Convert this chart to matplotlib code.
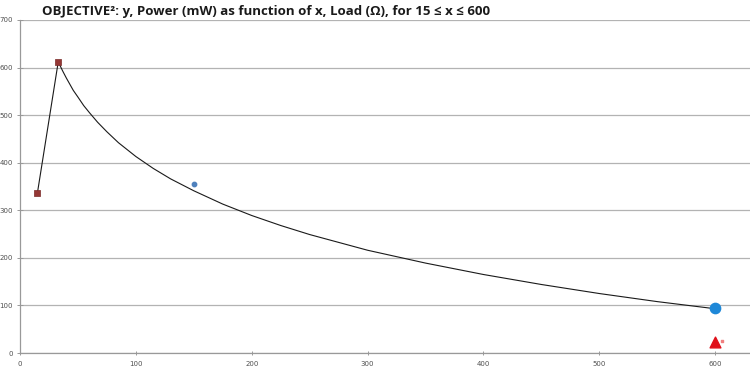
import matplotlib.pyplot as plt

# data
square_x = [15, 33]
square_y = [336, 612]

curve_x = [33, 35, 37, 40, 43, 46, 50, 55, 60, 67, 75, 85, 100, 115, 130, 150, 175, 200, 225, 250,
           300, 350, 400, 450, 500, 550, 600]
curve_y = [612, 602, 592, 578, 565, 552, 538, 520, 505, 485, 465, 442, 413, 388, 366, 341, 313, 289, 268, 249,
           216, 189, 165, 144, 125, 108, 93]

star_x, star_y = [150], [355]
circle_x, circle_y = [600], [94]
triangle_x, triangle_y = [600], [23]
tiny_x, tiny_y = [606], [26]

x_ticks = [0, 100, 200, 300, 400, 500, 600]
y_ticks = [0, 100, 200, 300, 400, 500, 600, 700]

fig = plt.figure(figsize=(7.5, 3.71), dpi=100)
ax = fig.add_axes([20 / 750, 18 / 371, 730 / 750, 333 / 371])

ax.plot(square_x, square_y, color="#1a1a1a", lw=0.8, zorder=3)
ax.plot(curve_x, curve_y, color="#1a1a1a", lw=0.8, zorder=3)
ax.scatter(square_x, square_y, marker="s", s=22, color="#953735", edgecolor="#7a2a28", lw=0.5, zorder=4)
ax.scatter(star_x, star_y, marker="o", s=10, color="#4f81bd", zorder=4)
ax.scatter(circle_x, circle_y, marker="o", s=55, color="#1e88d8", zorder=4)
ax.scatter(triangle_x, triangle_y, marker="^", s=60, color="#e0101a", zorder=4)
ax.scatter(tiny_x, tiny_y, marker="s", s=3, color="#f08080", zorder=4)

ax.set_xlim(0, 630)
ax.set_ylim(0, 700)
ax.set_xticks(x_ticks)
ax.set_yticks(y_ticks)
ax.grid(axis="y", color="#b3b3b3", lw=0.9)
ax.set_axisbelow(True)
for side in ("top", "right"):
    ax.spines[side].set_visible(False)
for side in ("left", "bottom"):
    ax.spines[side].set_color("#999999")
    ax.spines[side].set_linewidth(0.9)
ax.tick_params(axis="both", labelsize=5, colors="#999999", labelcolor="#505050",
               length=3, width=0.7, direction="inout")
ax.tick_params(axis="y", length=4, pad=3)
ax.tick_params(axis="x", pad=4)

fig.text(42 / 750, 1 - 12 / 371, "OBJECTIVE²: y, Power (mW) as function of x, Load (Ω), for 15 ≤ x ≤ 600",
         fontsize=9.5, fontweight="bold", family="Open Sans", va="center", ha="left", color="#1a1a1a")

fig.savefig("out.png", dpi=100)
